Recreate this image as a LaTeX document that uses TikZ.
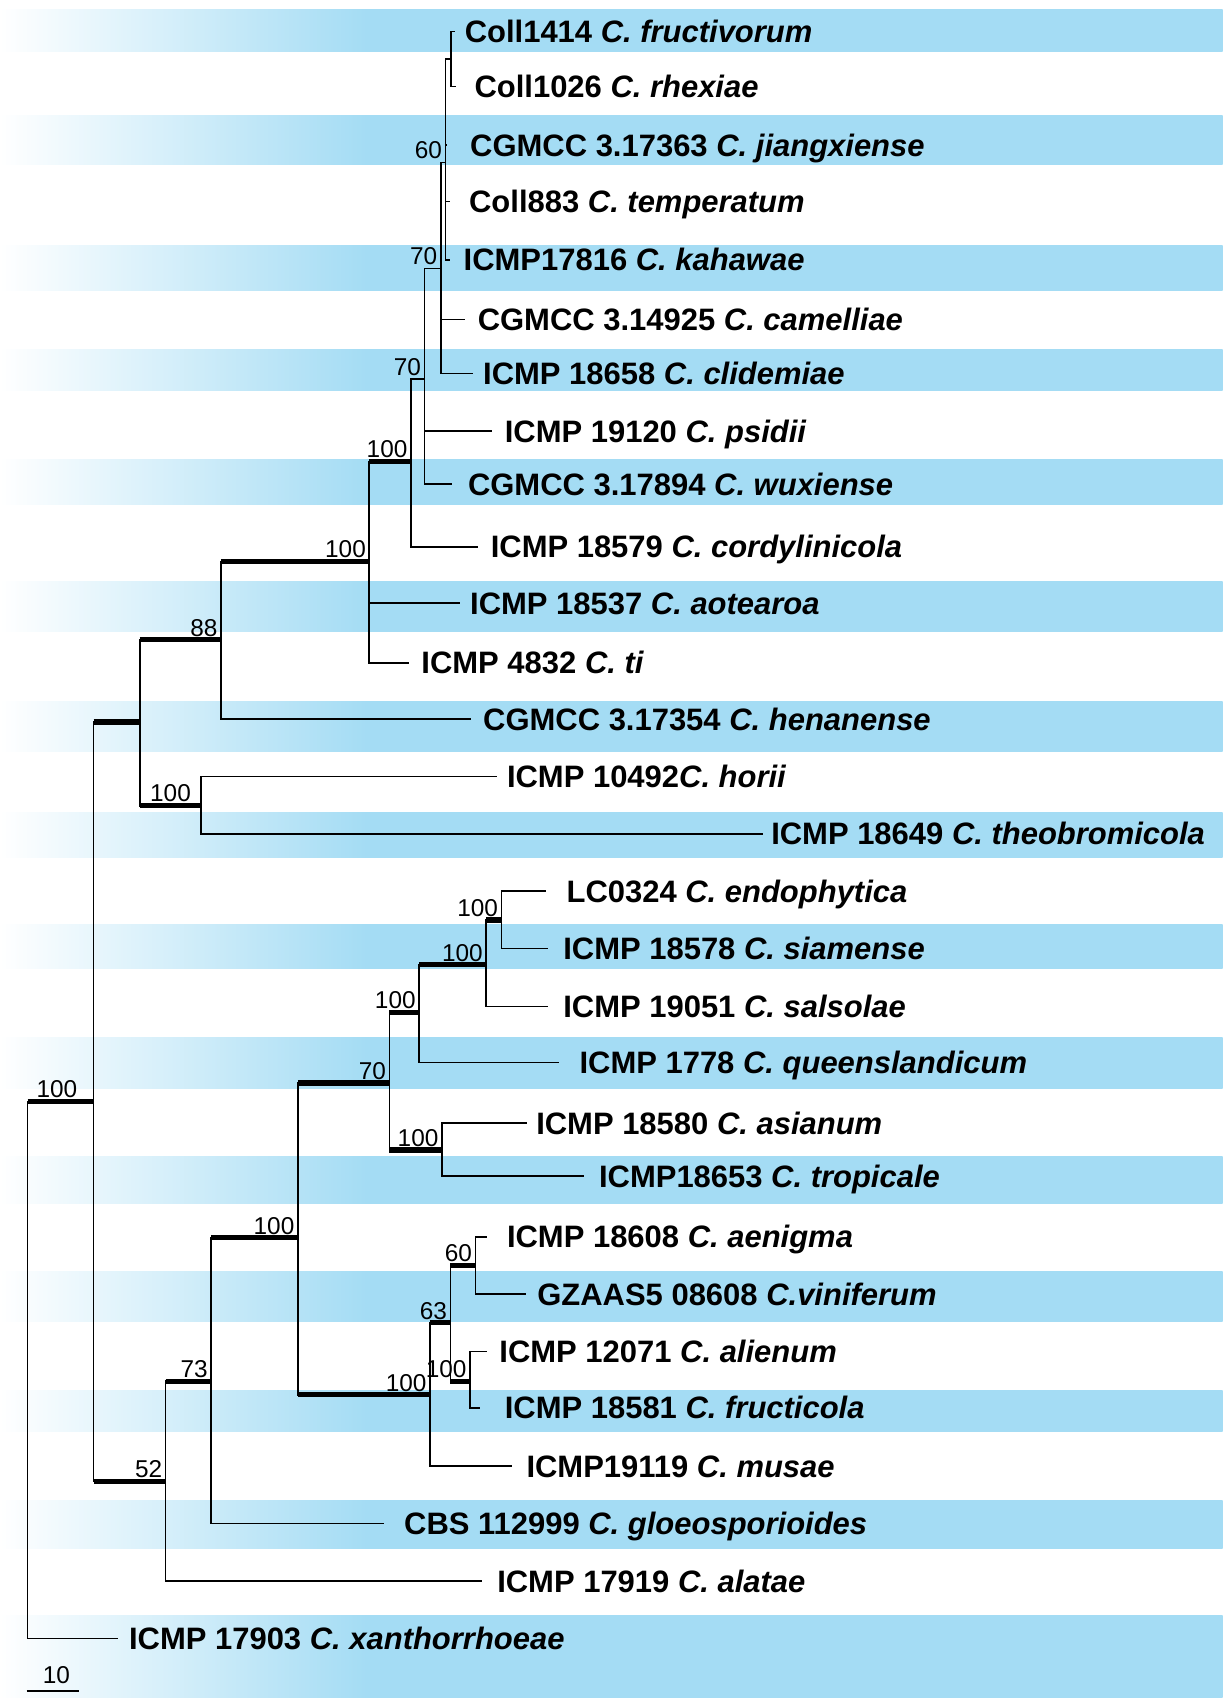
\documentclass[tikz,border=0pt]{standalone}
\usepackage{fontspec}
\setmainfont{Liberation Sans}
\definecolor{stripeblue}{RGB}{164,220,244}
\pgfdeclarehorizontalshading{stripefade}{100bp}{color(0bp)=(white); color(25bp)=(white); color(40bp)=(stripeblue); color(100bp)=(stripeblue)}
\tikzset{
  stripe/.style={
    shading=stripefade
  },
  branch/.style={
    line width=1.5pt
  },
  support/.style={
    line width=4.8pt
  },
  taxon/.style={
    anchor=west,
    inner ysep=0pt,
    inner xsep=#1,
    text height=21pt,
    text depth=0.5pt,
    font=\fontsize{28.6}{30}\selectfont\bfseries
  },
  taxon/.default=12pt,
  boot/.style={
    anchor=south east,
    inner sep=0pt,
    xshift=-3pt,
    yshift=3pt,
    font=\fontsize{22.5}{24}\selectfont
  }
}

\begin{document}
\begin{tikzpicture}[x=1pt,y=-1pt]
        \fill[white] (0,0) rectangle (1129,1568);
        \useasboundingbox (0,0) rectangle (1129,1568);
        % stripes behind every second taxon
        \shade[stripe] (0,9) rectangle (1129,48);
        \shade[stripe] (0,107) rectangle (1129,152);
        \shade[stripe] (0,227) rectangle (1129,268);
        \shade[stripe] (0,323) rectangle (1129,361);
        \shade[stripe] (0,424) rectangle (1129,466);
        \shade[stripe] (0,537) rectangle (1129,583);
        \shade[stripe] (0,648) rectangle (1129,694);
        \shade[stripe] (0,750) rectangle (1129,792);
        \shade[stripe] (0,854) rectangle (1129,894);
        \shade[stripe] (0,958) rectangle (1129,1005);
        \shade[stripe] (0,1068) rectangle (1129,1111);
        \shade[stripe] (0,1174) rectangle (1129,1220);
        \shade[stripe] (0,1284) rectangle (1129,1322);
        \shade[stripe] (0,1386) rectangle (1129,1430);
        \shade[stripe] (0,1492) rectangle (1129,1568);

        % internal nodes
        \coordinate (root) at (25.4,1017);
        \coordinate (nA) at (86.5,1017);
        \coordinate (nB) at (129,666.8);
        \coordinate (nD) at (204,590.8);
        \coordinate (nE) at (185.4,744);
        \coordinate (nF) at (341,518.5);
        \coordinate (nG) at (379.4,426);
        \coordinate (nH) at (392,350);
        \coordinate (nI) at (407,248);
        \coordinate (nJ) at (411.4,150);
        \coordinate (nK) at (416.3,54.5);
        \coordinate (nL) at (153,1367.7);
        \coordinate (nM) at (195,1275.4);
        \coordinate (nN) at (275,1143);
        \coordinate (nO) at (359.6,1000);
        \coordinate (nP) at (387,935);
        \coordinate (nQ) at (449,891);
        \coordinate (nR) at (463,849.5);
        \coordinate (nS) at (408,1062);
        \coordinate (nT) at (397,1288);
        \coordinate (nU) at (416,1221.5);
        \coordinate (nV) at (439,1168.6);
        \coordinate (nW) at (434,1275.4);

        % taxa
        \node[taxon=9pt] (fructivorum) at (420,29) {Coll1414 \textit{C. fructivorum}};
        \node[taxon=17pt] (rhexiae) at (421,80) {Coll1026 \textit{C. rhexiae}};
        \node[taxon=21pt] (jiangxiense) at (413,134) {CGMCC 3.17363 \textit{C. jiangxiense}};
        \node[taxon=17pt] (temperatum) at (416,186) {Coll883 \textit{C. temperatum}};
        \node[taxon] (kahawae) at (416,240) {ICMP17816 \textit{C. kahawae}};
        \node[taxon] (camelliae) at (429,295) {CGMCC 3.14925 \textit{C. camelliae}};
        \node[taxon=9pt] (clidemiae) at (437,345) {ICMP 18658 \textit{C. clidemiae}};
        \node[taxon] (psidii) at (454,398) {ICMP 19120 \textit{C. psidii}};
        \node[taxon=15pt] (wuxiense) at (417,447) {CGMCC 3.17894 \textit{C. wuxiense}};
        \node[taxon] (cordylinicola) at (441,505) {ICMP 18579 \textit{C. cordylinicola}};
        \node[taxon=9pt] (aotearoa) at (425,557) {ICMP 18537 \textit{C. aotearoa}};
        \node[taxon=11pt] (ti) at (378,612) {ICMP 4832 \textit{C. ti}};
        \node[taxon=11pt] (henanense) at (435,664) {CGMCC 3.17354 \textit{C. henanense}};
        \node[taxon=9pt] (horii) at (459,717) {ICMP 10492\textit{C. horii}};
        \node[taxon=7pt] (theobromicola) at (705,770) {ICMP 18649 \textit{C. theobromicola}};
        \node[taxon=19pt] (endophytica) at (504,823) {LC0324 \textit{C. endophytica}};
        \node[taxon=14pt] (siamense) at (506,876) {ICMP 18578 \textit{C. siamense}};
        \node[taxon=14pt] (salsolae) at (506,929.5) {ICMP 19051 \textit{C. salsolae}};
        \node[taxon=19pt] (queenslandicum) at (516,981) {ICMP 1778 \textit{C. queenslandicum}};
        \node[taxon=8pt] (asianum) at (487,1037) {ICMP 18580 \textit{C. asianum}};
        \node[taxon=14pt] (tropicale) at (539,1086) {ICMP18653 \textit{C. tropicale}};
        \node[taxon=18pt] (aenigma) at (450,1142) {ICMP 18608 \textit{C. aenigma}};
        \node[taxon=10pt] (viniferum) at (486,1195) {GZAAS5 08608 \textit{C.viniferum}};
        \node[taxon=11pt] (alienum) at (450,1248) {ICMP 12071 \textit{C. alienum}};
        \node[taxon=23pt] (fructicola) at (443,1300) {ICMP 18581 \textit{C. fructicola}};
        \node[taxon=13pt] (musae) at (473,1354) {ICMP19119 \textit{C. musae}};
        \node[taxon=18pt] (gloeosporioides) at (355,1407) {CBS 112999 \textit{C. gloeosporioides}};
        \node[taxon=14pt] (alatae) at (445,1460) {ICMP 17919 \textit{C. alatae}};
        \node[taxon=10pt] (xanthorrhoeae) at (109,1513) {ICMP 17903 \textit{C. xanthorrhoeae}};

        % branches
        \draw[branch] (root) |- (nA);
        \draw[branch] (root) |- (xanthorrhoeae.west);
        \draw[branch] (nA) |- (nB);
        \draw[branch] (nA) |- (nL);
        \draw[branch] (nB) |- (nD);
        \draw[branch] (nB) |- (nE);
        \draw[branch] (nD) |- (nF);
        \draw[branch] (nD) |- (henanense.west);
        \draw[branch] (nE) |- (horii.west);
        \draw[branch] (nE) |- (theobromicola.west);
        \draw[branch] (nF) |- (nG);
        \draw[branch] (nF) |- (aotearoa.west);
        \draw[branch] (nF) |- (ti.west);
        \draw[branch] (nG) |- (nH);
        \draw[branch] (nG) |- (cordylinicola.west);
        \draw[branch] (nH) |- (nI);
        \draw[branch] (nH) |- (psidii.west);
        \draw[branch] (nH) |- (wuxiense.west);
        \draw[branch] (nI) |- (nJ);
        \draw[branch] (nI) |- (camelliae.west);
        \draw[branch] (nI) |- (clidemiae.west);
        \draw[branch] (nJ) |- (nK);
        \draw[branch] (nJ) |- (jiangxiense.west);
        \draw[branch] (nJ) |- (temperatum.west);
        \draw[branch] (nJ) |- (kahawae.west);
        \draw[branch] (nK) |- (fructivorum.west);
        \draw[branch] (nK) |- (rhexiae.west);
        \draw[branch] (nL) |- (nM);
        \draw[branch] (nL) |- (alatae.west);
        \draw[branch] (nM) |- (nN);
        \draw[branch] (nM) |- (gloeosporioides.west);
        \draw[branch] (nN) |- (nO);
        \draw[branch] (nN) |- (nT);
        \draw[branch] (nO) |- (nP);
        \draw[branch] (nO) |- (nS);
        \draw[branch] (nP) |- (nQ);
        \draw[branch] (nP) |- (queenslandicum.west);
        \draw[branch] (nQ) |- (nR);
        \draw[branch] (nQ) |- (salsolae.west);
        \draw[branch] (nR) |- (endophytica.west);
        \draw[branch] (nR) |- (siamense.west);
        \draw[branch] (nS) |- (asianum.west);
        \draw[branch] (nS) |- (tropicale.west);
        \draw[branch] (nT) |- (nU);
        \draw[branch] (nT) |- (musae.west);
        \draw[branch] (nU) |- (nV);
        \draw[branch] (nU) |- (nW);
        \draw[branch] (nV) |- (aenigma.west);
        \draw[branch] (nV) |- (viniferum.west);
        \draw[branch] (nW) |- (alienum.west);
        \draw[branch] (nW) |- (fructicola.west);

        % well supported branches
        \draw[support] (root) -- (nA);
        \draw[support] (nA |- nB) -- (nB);
        \draw[support] (nA |- nL) -- (nL);
        \draw[support] (nB |- nD) -- (nD);
        \draw[support] (nB |- nE) -- (nE);
        \draw[support] (nD |- nF) -- (nF);
        \draw[support] (nF |- nG) -- (nG);
        \draw[support] (nL |- nM) -- (nM);
        \draw[support] (nM |- nN) -- (nN);
        \draw[support] (nN |- nO) -- (nO);
        \draw[support] (nN |- nT) -- (nT);
        \draw[support] (nO |- nP) -- (nP);
        \draw[support] (nO |- nS) -- (nS);
        \draw[support] (nP |- nQ) -- (nQ);
        \draw[support] (nQ |- nR) -- (nR);
        \draw[support] (nT |- nU) -- (nU);
        \draw[support] (nU |- nV) -- (nV);
        \draw[support] (nU |- nW) -- (nW);

        % bootstrap values
        \node[boot,xshift=-12pt] (bA) at (nA) {100};
        \node[boot] (bD) at (nD) {88};
        \node[boot,xshift=-6pt] (bE) at (nE) {100};
        \node[boot] (bF) at (nF) {100};
        \node[boot] (bG) at (nG) {100};
        \node[boot] (bH) at (nH) {70};
        \node[boot] (bI) at (nI) {70};
        \node[boot] (bJ) at (nJ) {60};
        \node[boot] (bL) at (nL) {52};
        \node[boot] (bM) at (nM) {73};
        \node[boot] (bN) at (nN) {100};
        \node[boot] (bO) at (nO) {70};
        \node[boot] (bP) at (nP) {100};
        \node[boot] (bQ) at (nQ) {100};
        \node[boot] (bR) at (nR) {100};
        \node[boot] (bS) at (nS) {100};
        \node[boot] (bT) at (nT) {100};
        \node[boot] (bU) at (nU) {63};
        \node[boot] (bV) at (nV) {60};
        \node[boot] (bW) at (nW) {100};

        % scale bar
        \coordinate (barleft) at (24.7,1561.6);
        \coordinate (barright) at (73.4,1561.6);
        \draw[branch] (barleft) -- (barright);
        \node[boot,anchor=south,xshift=3pt] (barlabel) at (52,1558) {10};
    \end{tikzpicture}
\end{document}
